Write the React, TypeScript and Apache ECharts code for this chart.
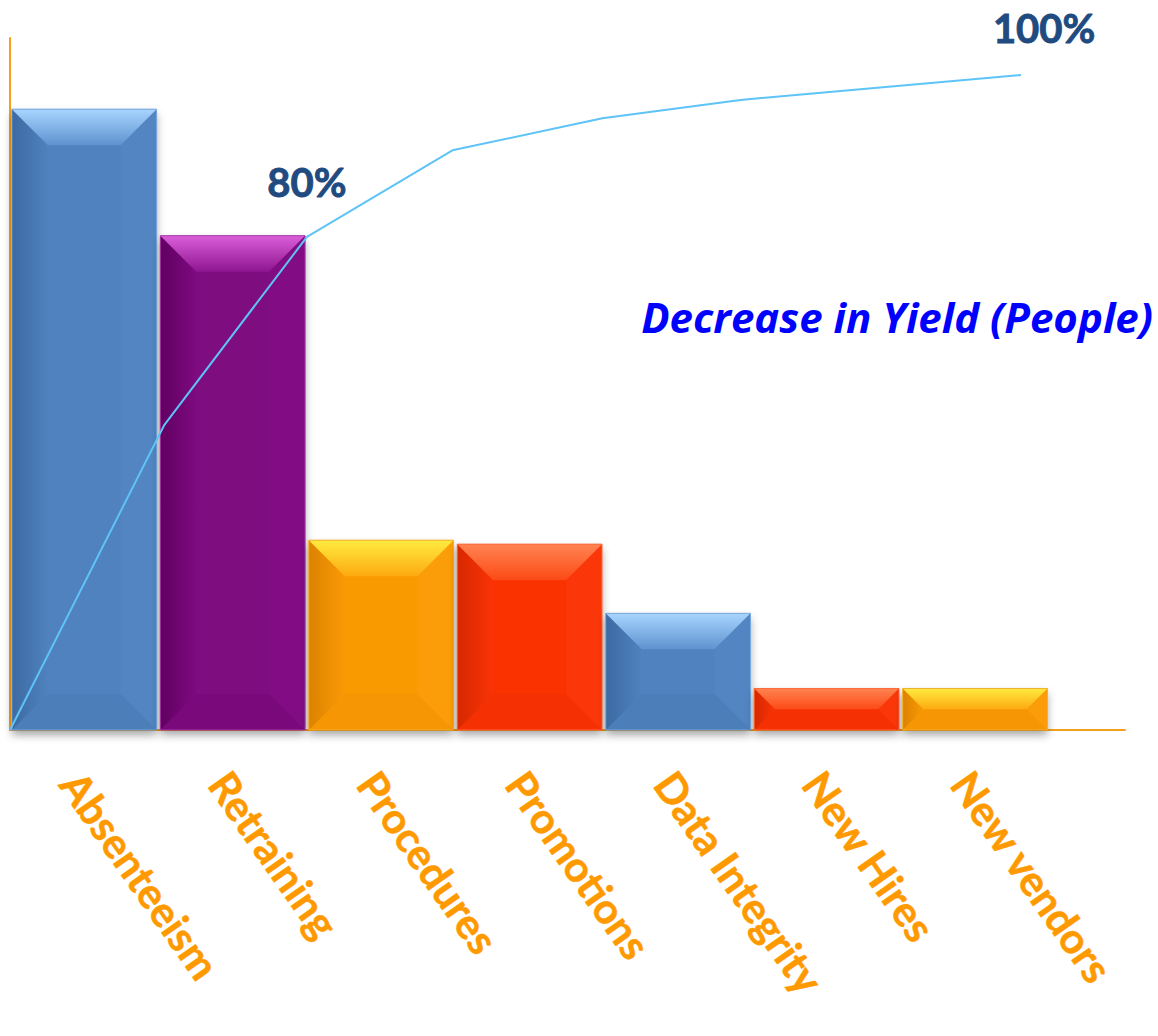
import React, { useEffect, useRef } from "react";
import * as echarts from "echarts";

// ---- data ----
const categories = ["Absenteeism", "Retraining", "Procedures", "Promotions", "Data Integrity", "New Hires", "New vendors"];
const barValues = [31.4, 25.0, 9.6, 9.4, 5.9, 2.1, 2.1];
const colorKeys = ["blue", "purple", "orange", "red", "blue", "red", "orange"];
// cumulative line (x in category-band units from the left axis, y in percent)
const cumX = [0, 1.04, 2.0, 2.98, 3.99, 4.92, 6.81];
const cumY = [0, 46.6, 75.3, 88.5, 93.4, 96.2, 100];
const cumLabels = ["", "", "80%", "", "", "", "100%"];
const annotation = "Decrease in Yield (People)";

const PALETTE: Record<string, any> = {
  blue: { face: "#4F82BE", topLight: "#A8D5FF", topDark: "#5F92CF", left: "#3D6AA2", right: "#5285C1", bottom: "#4C7EBA", edge: "#79A9E0" },
  purple: { face: "#7E0A80", topLight: "#DA5ED9", topDark: "#8E1690", left: "#600061", right: "#820C84", bottom: "#7A097C", edge: "#A53AA6" },
  orange: { face: "#F99A06", topLight: "#FFEB3F", topDark: "#FDAA10", left: "#DC8200", right: "#FB9D08", bottom: "#F69604", edge: "#F6B030" },
  red: { face: "#FA3306", topLight: "#FF8452", topDark: "#FC4A15", left: "#D62800", right: "#FB370A", bottom: "#F53104", edge: "#FF6A3A" },
};

const AXIS_COLOR = "#F5A01A";
const LABEL_COLOR = "#FF9900";
const PCT_COLOR = "#1F4B80";

export default function App() {
  const ref = useRef<HTMLDivElement>(null);
  useEffect(() => {
    if (!ref.current) return;
    const chart = echarts.init(ref.current, undefined, { renderer: "svg" });
    const barData = barValues.map((v, i) => [i + 0.5, v]);
    const lineData = cumX.map((x, i) => {
      const item: any = { value: [x, cumY[i]] };
      if (cumLabels[i]) {
        const last = i === cumX.length - 1;
        item.label = {
          show: true,
          position: "top",
          formatter: cumLabels[i],
          distance: last ? 27 : 35,
          offset: last ? [23, 0] : [0, 0],
          fontFamily: "Lato",
          fontWeight: "bold",
          fontSize: 40,
          color: PCT_COLOR,
          textBorderColor: PCT_COLOR,
          textBorderWidth: 0.9,
        };
      }
      return item;
    });

    const option: any = {
      animation: false,
      backgroundColor: "#ffffff",
      grid: { left: 10, right: 33, top: 38, bottom: 306, containLabel: false },
      xAxis: [
        {
          type: "value",
          min: 0,
          max: 7.51,
          axisLine: { show: true, lineStyle: { color: AXIS_COLOR, width: 2 } },
          axisTick: { show: false },
          splitLine: { show: false },
          axisLabel: {
            show: true,
            customValues: categories.map((_, i) => i + 0.41),
            formatter: (val: number) => categories[Math.floor(val)] ?? "",
            rotate: -55,
            margin: 46,
            fontFamily: "Lato",
            fontWeight: "bold",
            fontSize: 42,
            color: LABEL_COLOR,
            textBorderColor: LABEL_COLOR,
            textBorderWidth: 0.5,
          },
        },
      ],
      yAxis: [
        {
          type: "value",
          min: 0,
          max: 35,
          axisLine: { show: true, lineStyle: { color: AXIS_COLOR, width: 2 } },
          axisTick: { show: false },
          axisLabel: { show: false },
          splitLine: { show: false },
        },
        {
          type: "value",
          min: 0,
          max: 105.65,
          show: false,
          splitLine: { show: false },
        },
      ],
      series: [
        {
          type: "custom",
          xAxisIndex: 0,
          yAxisIndex: 0,
          encode: { x: 0, y: 1 },
          data: barData,
          z: 2,
          renderItem: (params: any, api: any) => {
            const i = params.dataIndex;
            const x = api.value(0);
            const v = api.value(1);
            const p0 = api.coord([x, 0]);
            const p1 = api.coord([x, v]);
            const bw = api.size([0.975, 0])[0];
            const left = p0[0] - bw / 2;
            const right = p0[0] + bw / 2;
            const top = p1[1];
            const bottom = p0[1];
            const h = bottom - top;
            const d = Math.min(36, h / 2);
            const c = PALETTE[colorKeys[i]];
            return {
              type: "group",
              children: [
                {
                  type: "rect",
                  shape: { x: left, y: top, width: bw, height: h },
                  style: {
                    fill: c.face,
                    shadowBlur: 8,
                    shadowOffsetY: 5,
                    shadowColor: "rgba(0,0,0,0.35)",
                  },
                },
                {
                  type: "polygon",
                  shape: { points: [[left, bottom], [right, bottom], [right - d, bottom - d], [left + d, bottom - d]] },
                  style: { fill: c.bottom },
                },
                {
                  type: "polygon",
                  shape: { points: [[right, top], [right, bottom], [right - d, bottom - d], [right - d, top + d]] },
                  style: { fill: c.right },
                },
                {
                  type: "polygon",
                  shape: { points: [[left, top], [left + d, top + d], [left + d, bottom - d], [left, bottom]] },
                  style: {
                    fill: new echarts.graphic.LinearGradient(0, 0, 1, 0, [
                      { offset: 0, color: c.left },
                      { offset: 1, color: c.face },
                    ]),
                  },
                },
                {
                  type: "polygon",
                  shape: { points: [[left, top], [right, top], [right - d, top + d], [left + d, top + d]] },
                  style: {
                    fill: new echarts.graphic.LinearGradient(0, 0, 0, 1, [
                      { offset: 0, color: c.topLight },
                      { offset: 1, color: c.topDark },
                    ]),
                  },
                },
                {
                  type: "rect",
                  shape: { x: left, y: top, width: bw, height: h },
                  style: { fill: "none", stroke: c.edge, lineWidth: 1 },
                },
              ],
            };
          },
        },
        {
          type: "line",
          xAxisIndex: 0,
          yAxisIndex: 1,
          data: lineData,
          symbol: "circle",
          symbolSize: 0.1,
          showSymbol: true,
          itemStyle: { color: "rgba(0,0,0,0)" },
          z: 5,
          lineStyle: { color: "#5EC3F7", width: 2 },
        },
      ],
      graphic: [
        {
          type: "text",
          right: 5,
          top: 295,
          style: {
            text: annotation,
            fontFamily: "Open Sans",
            fontWeight: "bold",
            fontStyle: "italic",
            fontSize: 42,
            fill: "#0000FF",
          },
        },
      ],
    };
    chart.setOption(option);
    return () => chart.dispose();
  }, []);
  return (
    <div
      ref={ref}
      style={{ position: "absolute", left: 0, top: 0, width: 1158, height: 1036 }}
    />
  );
}
